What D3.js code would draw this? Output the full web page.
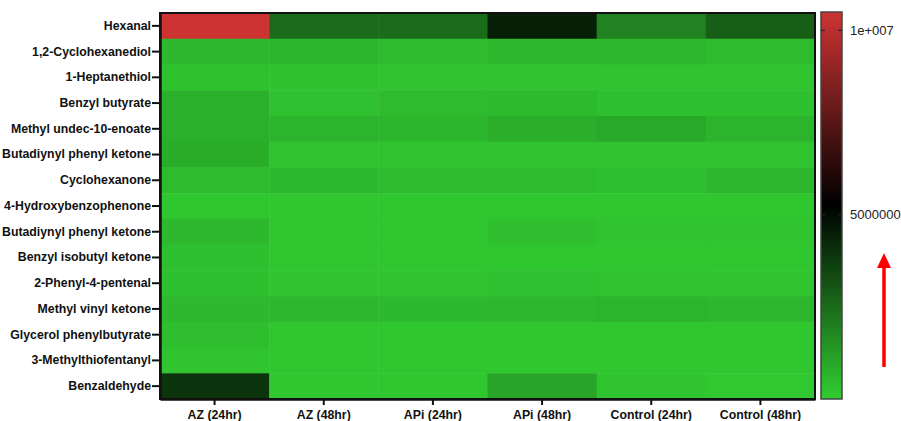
<!DOCTYPE html>
<html>
<head>
<meta charset="utf-8">
<script src="https://cdn.jsdelivr.net/npm/d3@7/dist/d3.min.js"></script>
<style>
  html, body { margin: 0; padding: 0; background: #fff; }
  svg { display: block; }
</style>
</head>
<body>
<svg id="chart" width="901" height="421"></svg>
<script>
// Compounds (rows) and sample groups (columns)
const compounds = [
  "Hexanal", "1,2-Cyclohexanediol", "1-Heptanethiol", "Benzyl butyrate",
  "Methyl undec-10-enoate", "Butadiynyl phenyl ketone", "Cyclohexanone",
  "4-Hydroxybenzophenone", "Butadiynyl phenyl ketone ", "Benzyl isobutyl ketone",
  "2-Phenyl-4-pentenal", "Methyl vinyl ketone", "Glycerol phenylbutyrate",
  "3-Methylthiofentanyl", "Benzaldehyde"
];
const groups = ["AZ (24hr)", "AZ (48hr)", "APi (24hr)", "APi (48hr)", "Control (24hr)", "Control (48hr)"];

// Peak areas per compound, one value per group (same order as `groups`)
const hexanal        = [10500000, 2510000, 2500000, 4480000, 1920000, 2820000];
const cyclohexanediol = [540000, 600000, 440000, 540000, 560000, 440000];
const heptanethiol   = [280000, 280000, 230000, 230000, 230000, 230000];
const benzylButyrate = [740000, 300000, 460000, 490000, 330000, 330000];
const methylUndec    = [740000, 640000, 590000, 770000, 920000, 610000];
const butadiynyl1    = [790000, 260000, 260000, 260000, 260000, 260000];
const cyclohexanone  = [460000, 510000, 460000, 440000, 330000, 560000];
const hydroxybenzo   = [180000, 180000, 180000, 180000, 180000, 180000];
const butadiynyl2    = [540000, 180000, 180000, 360000, 200000, 200000];
const benzylIsobutyl = [330000, 180000, 180000, 180000, 180000, 180000];
const phenylPentenal = [330000, 200000, 200000, 310000, 260000, 200000];
const methylVinyl    = [540000, 560000, 510000, 560000, 610000, 560000];
const glycerolPB     = [380000, 180000, 180000, 180000, 180000, 180000];
const methylthiofent = [200000, 180000, 180000, 180000, 180000, 180000];
const benzaldehyde   = [3890000, 180000, 180000, 1020000, 200000, 150000];

const values = [hexanal, cyclohexanediol, heptanethiol, benzylButyrate, methylUndec,
  butadiynyl1, cyclohexanone, hydroxybenzo, butadiynyl2, benzylIsobutyl,
  phenylPentenal, methylVinyl, glycerolPB, methylthiofent, benzaldehyde];

// Colour bar range and labelled ticks
const colorMin = 0;
const colorMax = 10500000;
const colorTicks = [5000000, 10000000];
const colorTickLabels = ["5000000", "1e+007"];

const svg = d3.select("#chart");
const plot = { left: 160, right: 815, top: 13, bottom: 399 };

const x = d3.scaleBand().domain(groups).range([plot.left, plot.right]);
const y = d3.scaleBand().domain(compounds).range([plot.top, plot.bottom]);

const color = d3.scaleLinear()
  .domain([colorMin, (colorMin + colorMax) / 2, colorMax])
  .range(["#32cd32", "#000000", "#cd3333"])
  .interpolate(d3.interpolateRgb)
  .clamp(true);

// Cells
const cells = [];
compounds.forEach((c, i) => groups.forEach((g, j) => cells.push({ c, g, v: values[i][j] })));

svg.append("g")
  .selectAll("rect")
  .data(cells)
  .join("rect")
  .attr("x", d => x(d.g))
  .attr("y", d => y(d.c))
  .attr("width", x.bandwidth() + 0.5)
  .attr("height", y.bandwidth() + 0.5)
  .attr("fill", d => color(d.v));

// Plot frame
svg.append("rect")
  .attr("x", plot.left).attr("y", plot.top)
  .attr("width", plot.right - plot.left).attr("height", plot.bottom - plot.top)
  .attr("fill", "none").attr("stroke", "#111").attr("stroke-width", 2);

// Axes
const fontFam = "'Liberation Sans', Arial, sans-serif";
const yAxis = svg.append("g")
  .attr("transform", `translate(${plot.left},0)`)
  .call(d3.axisLeft(y).tickSize(8).tickSizeOuter(0).tickPadding(1).tickFormat(d => d.trim()));
const xAxis = svg.append("g")
  .attr("transform", `translate(0,${plot.bottom})`)
  .call(d3.axisBottom(x).tickSize(6).tickSizeOuter(0).tickPadding(5));

[yAxis, xAxis].forEach(ax => {
  ax.select(".domain").attr("stroke", "#111").attr("stroke-width", 2.5);
  ax.selectAll(".tick line").attr("stroke", "#111").attr("stroke-width", 2);
  ax.selectAll(".tick text")
    .attr("fill", "#111")
    .style("font-family", fontFam)
    .style("font-weight", "bold")
    .style("font-size", "12.3px");
});

// Colour bar
const bar = { x: 821, w: 21, top: 12, bottom: 399 };
const cy = d3.scaleLinear().domain([colorMin, colorMax]).range([bar.bottom, bar.top]);

const defs = svg.append("defs");
const grad = defs.append("linearGradient")
  .attr("id", "cbar").attr("x1", 0).attr("y1", 1).attr("x2", 0).attr("y2", 0);
d3.range(0, 1.0001, 0.05).forEach(t => {
  grad.append("stop")
    .attr("offset", t)
    .attr("stop-color", color(colorMin + t * (colorMax - colorMin)));
});

svg.append("rect")
  .attr("x", bar.x).attr("y", bar.top)
  .attr("width", bar.w).attr("height", bar.bottom - bar.top)
  .attr("fill", "url(#cbar)")
  .attr("stroke", "#444").attr("stroke-width", 1.5);

const cTicks = svg.append("g").selectAll("g").data(colorTicks).join("g")
  .attr("transform", d => `translate(0,${cy(d)})`);
cTicks.append("line").attr("x1", bar.x).attr("x2", bar.x + 4)
  .attr("stroke", "#222").attr("stroke-width", 1.2);
cTicks.append("line").attr("x1", bar.x + bar.w - 4).attr("x2", bar.x + bar.w)
  .attr("stroke", "#222").attr("stroke-width", 1.2);
cTicks.append("text")
  .attr("x", bar.x + bar.w + 8)
  .attr("dy", "0.35em")
  .attr("fill", "#222")
  .style("font-family", fontFam)
  .style("font-size", "13px")
  .text((d, i) => colorTickLabels[i]);

// Upward arrow beside the colour bar
const arrowX = 884;
svg.append("line")
  .attr("x1", arrowX).attr("x2", arrowX)
  .attr("y1", 367).attr("y2", 266)
  .attr("stroke", "#ff0000").attr("stroke-width", 3.5);
svg.append("path")
  .attr("d", d3.line()([[arrowX - 7, 268], [arrowX, 253], [arrowX + 7, 268]]) + "Z")
  .attr("fill", "#ff0000");
</script>
</body>
</html>
